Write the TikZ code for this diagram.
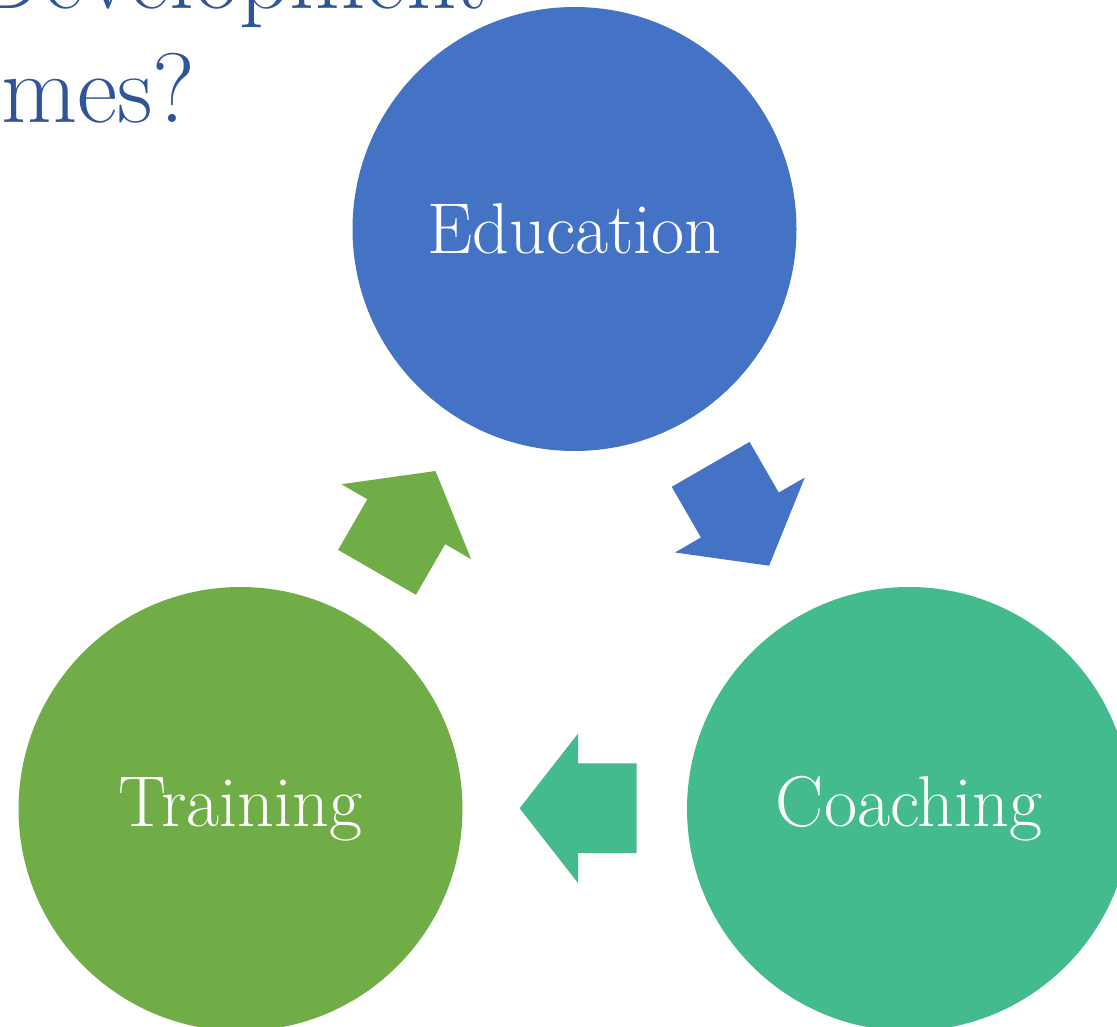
\documentclass[tikz,border=0pt]{standalone}
\usepackage{tikz}
\usetikzlibrary{positioning,shapes,shapes.arrows}

\definecolor{edublue}{HTML}{4472C4}
\definecolor{traingreen}{HTML}{70AD47}
\definecolor{coachteal}{HTML}{44BB8C}
\definecolor{titleblue}{HTML}{2F5597}

\tikzset{
    stage/.style={circle, inner sep=0pt, minimum size=333pt, text=white, font=\fontsize{54}{64}\selectfont},
    flow/.style={single arrow, inner xsep=0pt, inner ysep=33.5pt, minimum height=87.75pt, single arrow head extend=22.5pt, single arrow tip angle=104},
    heading/.style={inner sep=0pt, text=titleblue, font=\fontsize{74}{88}\selectfont}
}

\begin{document}
\begin{tikzpicture}[x=0.75pt, y=-0.75pt]
        \useasboundingbox (0,0) rectangle (1117,1027);
        \clip (0,0) rectangle (1117,1027);

        \node[heading, anchor=base east] (dev) at (489,9) {Development};
        \node[heading, anchor=base west] (mes) at (1,123) {mes?};

        \node[stage, fill=edublue] (edu) at (574.5,229) {Education};
        \node[stage, fill=traingreen] (train) at (240.5,809) {Training};
        \node[stage, fill=coachteal] (coach) at (909,809) {Coaching};

        \node[flow, fill=edublue, rotate=-60, anchor=tip] (a1) at (769.3,566) {};
        \node[flow, fill=coachteal, rotate=180, anchor=tip] (a2) at (519.3,808.3) {};
        \node[flow, fill=traingreen, rotate=60, anchor=tip] (a3) at (435.7,470.7) {};

\end{tikzpicture}
\end{document}
